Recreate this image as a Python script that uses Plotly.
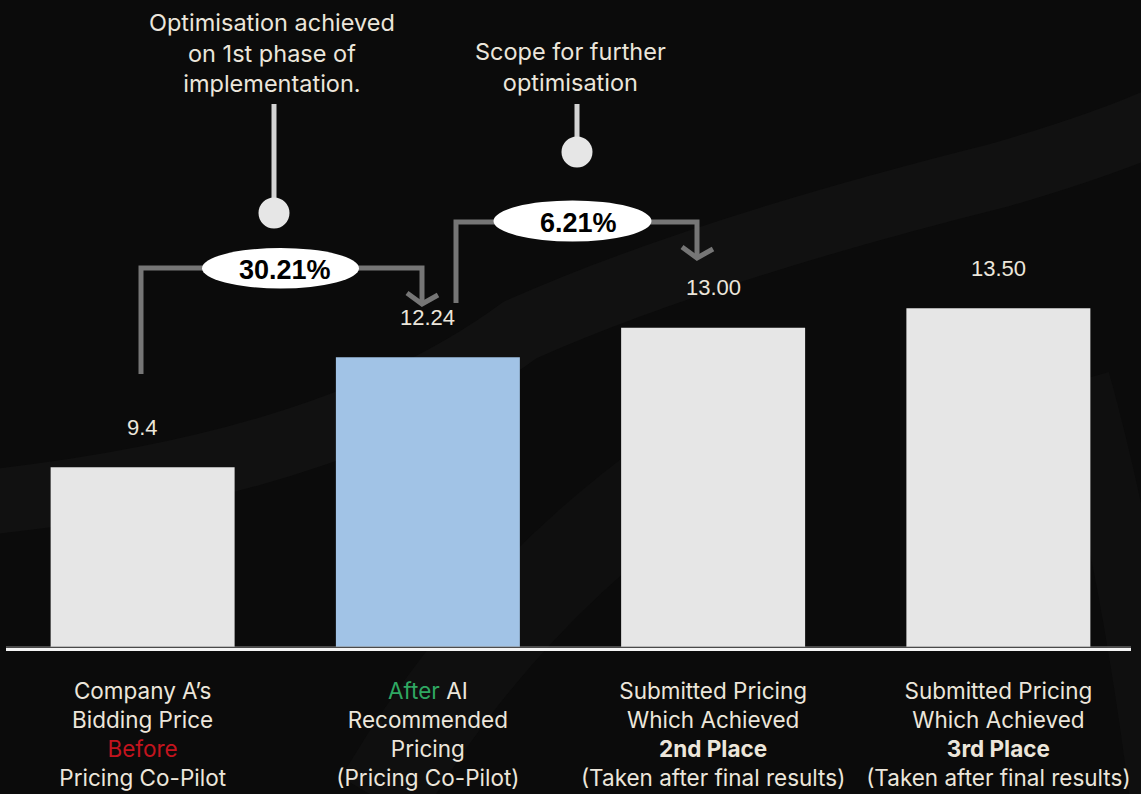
import plotly.graph_objects as go

# ---------------- data ----------------
categories = [
    "Company A’s<br>Bidding Price<br><span style='color:#C3141E'>Before</span><br>Pricing Co-Pilot",
    "<span style='color:#2FA862'>After</span> AI<br>Recommended<br>Pricing<br>(Pricing Co-Pilot)",
    "Submitted Pricing<br>Which Achieved<br><b>2nd Place</b><br>(Taken after final results)",
    "Submitted Pricing<br>Which Achieved<br><b>3rd Place</b><br>(Taken after final results)",
]
values = [9.4, 12.24, 13.00, 13.50]
value_labels = ["9.4", "12.24", "13.00", "13.50"]
bar_colors = ["#E6E6E6", "#A1C3E6", "#E6E6E6", "#E6E6E6"]
pct_labels = ["30.21%", "6.21%"]
note_texts = ["Optimisation achieved<br>on 1st phase of<br>implementation.",
              "Scope for further<br>optimisation"]

# ---------------- layout helpers ----------------
W, H = 1141, 794
MT, MB = 0, 147
PH = H - MT - MB


def X(px):
    return px / W


def Y(py):
    return (H - MB - py) / PH


BG = "#0B0B0B"
TXT = "#ECE6DB"
GRAY = "#767676"
TEXT_FONT = "Inter, Roboto, 'Noto Sans', sans-serif"
NUM_FONT = "'Liberation Sans', Arial, sans-serif"

x_idx = list(range(len(values)))

fig = go.Figure()
fig.add_trace(go.Bar(
    x=x_idx, y=values, marker=dict(color=bar_colors, line=dict(width=0)),
    width=0.645, hoverinfo="skip", showlegend=False,
))

shapes = []

# faint background swoosh
shapes.append(dict(type="path", xref="paper", yref="paper", layer="below",
                   path=f"M {X(-40)},{Y(505)} Q {X(330)},{Y(470)} {X(520)},{Y(330)} "
                        f"Q {X(700)},{Y(250)} {X(1000)},{Y(175)} Q {X(1120)},{Y(140)} {X(1180)},{Y(110)}",
                   line=dict(color="#111111", width=65)))
shapes.append(dict(type="path", xref="paper", yref="paper", layer="below",
                   path=f"M {X(380)},{Y(800)} Q {X(520)},{Y(560)} {X(760)},{Y(420)}",
                   line=dict(color="#0F0F0F", width=90)))
shapes.append(dict(type="path", xref="paper", yref="paper", layer="below",
                   path=f"M {X(1080)},{Y(380)} Q {X(1130)},{Y(560)} {X(1160)},{Y(800)}",
                   line=dict(color="#0F0F0F", width=60)))

# baseline
shapes.append(dict(type="line", xref="paper", yref="paper", x0=X(6), x1=X(1131), y0=Y(647), y1=Y(647),
                   line=dict(color="#8A8A8A", width=1)))
shapes.append(dict(type="line", xref="paper", yref="paper", x0=X(6), x1=X(1131), y0=Y(649.5), y1=Y(649.5),
                   line=dict(color="#F4F4F4", width=3)))

# bracket 1 (bar 1 -> bar 2)
shapes.append(dict(type="path", xref="paper", yref="paper", layer="above",
                   path=f"M {X(141)},{Y(374)} L {X(141)},{Y(268)} L {X(422)},{Y(268)} L {X(422)},{Y(303)}",
                   line=dict(color=GRAY, width=5)))
shapes.append(dict(type="path", xref="paper", yref="paper", layer="above",
                   path=f"M {X(407)},{Y(293)} L {X(422)},{Y(304)} L {X(438)},{Y(295)}",
                   line=dict(color=GRAY, width=5)))
# bracket 2 (bar 2 -> bar 3)
shapes.append(dict(type="path", xref="paper", yref="paper", layer="above",
                   path=f"M {X(456)},{Y(303)} L {X(456)},{Y(222)} L {X(697)},{Y(222)} L {X(697)},{Y(257)}",
                   line=dict(color=GRAY, width=5)))
shapes.append(dict(type="path", xref="paper", yref="paper", layer="above",
                   path=f"M {X(682)},{Y(247)} L {X(697)},{Y(258)} L {X(713)},{Y(249)}",
                   line=dict(color=GRAY, width=5)))

# ellipses
shapes.append(dict(type="circle", xref="paper", yref="paper", layer="above",
                   x0=X(202), x1=X(359), y0=Y(248), y1=Y(288.5),
                   fillcolor="#FFFFFF", line=dict(width=0)))
shapes.append(dict(type="circle", xref="paper", yref="paper", layer="above",
                   x0=X(493.5), x1=X(651.5), y0=Y(200.5), y1=Y(241.5),
                   fillcolor="#FFFFFF", line=dict(width=0)))

# stems and dots
for cx, y_top, cy in [(274, 104, 213), (577, 104, 152)]:
    shapes.append(dict(type="line", xref="paper", yref="paper", layer="above",
                       x0=X(cx), x1=X(cx), y0=Y(y_top), y1=Y(cy),
                       line=dict(color="#D4D4D4", width=5)))
    shapes.append(dict(type="circle", xref="paper", yref="paper", layer="above",
                       x0=X(cx - 15.5), x1=X(cx + 15.5), y0=Y(cy - 15.5), y1=Y(cy + 15.5),
                       fillcolor="#E6E6E6", line=dict(width=0)))

annotations = []
# value labels above the bars
for i, (v, lab) in enumerate(zip(values, value_labels)):
    annotations.append(dict(x=i, y=v, xref="x", yref="y", text=lab, showarrow=False,
                            yanchor="middle", yshift=40,
                            font=dict(family=NUM_FONT, size=22, color=TXT)))

# percentage labels
for (cx, cy), lab in zip([(285, 269.5), (578, 223)], pct_labels):
    annotations.append(dict(x=X(cx), y=Y(cy), xref="paper", yref="paper", text=f"<b>{lab}</b>",
                            showarrow=False, xanchor="center", yanchor="middle",
                            font=dict(family="'Liberation Sans', Arial, sans-serif", size=27, color="#000000")))

# notes at the top
for (cx, cy), t in zip([(272, 53), (570, 67.5)], note_texts):
    annotations.append(dict(x=X(cx), y=Y(cy), xref="paper", yref="paper", text=t,
                            showarrow=False, xanchor="center", yanchor="middle", align="center",
                            font=dict(family=TEXT_FONT, size=23.5, color=TXT)))

fig.update_layout(
    width=W, height=H,
    margin=dict(l=0, r=0, t=MT, b=MB, pad=0, autoexpand=False),
    paper_bgcolor=BG, plot_bgcolor="rgba(0,0,0,0)",
    shapes=shapes, annotations=annotations,
    xaxis=dict(range=[-0.5, 3.5], tickmode="array", tickvals=x_idx, ticktext=categories,
               showgrid=False, zeroline=False, showline=False, ticks="",
               ticklabelstandoff=28, automargin=False,
               tickfont=dict(family=TEXT_FONT, size=22.5, color=TXT), fixedrange=True),
    yaxis=dict(range=[4.77, 4.77 + 647 / 38.8], visible=False, showgrid=False, zeroline=False,
               automargin=False, fixedrange=True),
    bargap=0.355,
)

fig.write_html("out.html", config={"displayModeBar": False})
